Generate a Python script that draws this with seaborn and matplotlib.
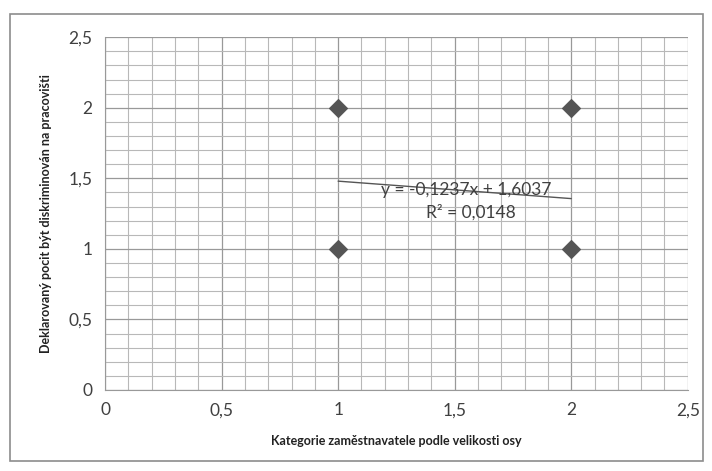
import numpy as np
import pandas as pd
import seaborn as sns
import matplotlib.pyplot as plt
from matplotlib.ticker import MultipleLocator, FuncFormatter
from matplotlib.patches import Rectangle

# data
kategorie = [1, 1, 2, 2]
pocit = [1, 2, 1, 2]
# trendline as printed on the chart
slope = -0.1237
intercept = 1.6037
r2 = 0.0148
trend_x = [1, 2]

sns.set_style("white")
plt.rcParams['font.family'] = ['Lato', 'DejaVu Sans']

df = pd.DataFrame({'x': kategorie, 'y': pocit})

fig = plt.figure(figsize=(7.12, 4.71), dpi=100)
ax = fig.add_axes([0.1475, 0.172, 0.8185, 0.749])

ax.set_xlim(0, 2.5)
ax.set_ylim(0, 2.5)
ax.xaxis.set_major_locator(MultipleLocator(0.5))
ax.yaxis.set_major_locator(MultipleLocator(0.5))
ax.xaxis.set_minor_locator(MultipleLocator(0.1))
ax.yaxis.set_minor_locator(MultipleLocator(0.1))
ax.grid(which='major', color='#999999', linewidth=0.9)
ax.grid(which='minor', color='#b8b8b8', linewidth=0.8)
ax.set_axisbelow(True)

sns.scatterplot(data=df, x='x', y='y', marker='D', s=85, color='#555555',
                edgecolor='#555555', ax=ax, zorder=3)

tx = np.array(trend_x, dtype=float)
ax.plot(tx, slope * tx + intercept, color='#555555', linewidth=1.0, zorder=2)

def fmt(v, pos):
    s = ('%g' % v).replace('.', ',')
    return s

ax.xaxis.set_major_formatter(FuncFormatter(fmt))
ax.yaxis.set_major_formatter(FuncFormatter(fmt))
ax.tick_params(axis='both', which='both', length=0, labelsize=12.5, colors='#404040', pad=9)

for s in ['top', 'right']:
    ax.spines[s].set_visible(False)
for s in ['left', 'bottom']:
    ax.spines[s].set_color('#999999')

eq = 'y = ' + ('%.4f' % slope).replace('.', ',') + 'x + ' + ('%.4f' % intercept).replace('.', ',')
ax.text(1.55, 1.415, eq, ha='center', va='center', fontsize=12.5, color='#404040', zorder=4)
ax.text(1.57, 1.255, 'R² = ' + ('%.4f' % r2).replace('.', ','), ha='center', va='center',
        fontsize=12.5, color='#404040', zorder=4)

ax.set_xlabel('Kategorie zaměstnavatele podle velikosti osy', fontsize=9, fontweight='bold',
              color='#222222', labelpad=12)
ax.set_ylabel('Deklarovaný pocit být diskriminován na pracovišti', fontsize=9, fontweight='bold',
              color='#222222', labelpad=12)

fig.patches.append(Rectangle((0.014, 0.022), 0.973, 0.948, transform=fig.transFigure,
                             fill=False, edgecolor='#8c8c8c', linewidth=1.2))

fig.savefig('out.png', dpi=100)
